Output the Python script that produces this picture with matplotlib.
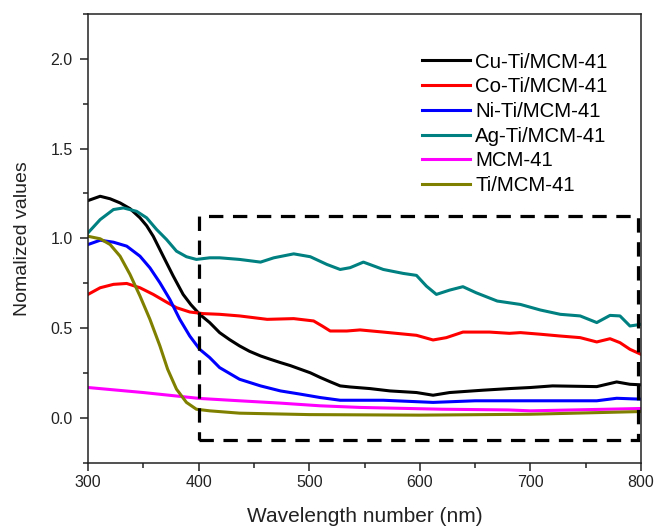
import matplotlib
matplotlib.use("Agg")
import matplotlib.pyplot as plt
from matplotlib.patches import Rectangle
from matplotlib.ticker import MultipleLocator, FormatStrFormatter

plt.rcParams['font.family'] = ['Liberation Sans', 'DejaVu Sans']

# ---- data ----
cu_x = [300, 311, 320, 329, 338, 347, 353, 359, 368, 377, 386, 393, 401, 410, 419, 428, 437, 446, 456, 465,
        474, 483, 492, 501, 510, 519, 528, 537, 555, 573, 597, 612, 627, 657, 681, 700, 720, 760, 778, 790, 800]
cu_y = [1.21, 1.234, 1.22, 1.197, 1.165, 1.114, 1.07, 1.011, 0.90, 0.79, 0.687, 0.63, 0.576, 0.53, 0.474, 0.435,
        0.40, 0.37, 0.344, 0.325, 0.307, 0.29, 0.27, 0.25, 0.224, 0.20, 0.177, 0.171, 0.162, 0.149, 0.14, 0.125,
        0.14, 0.153, 0.162, 0.168, 0.177, 0.173, 0.199, 0.186, 0.183]

co_x = [300, 311, 323, 335, 347, 359, 371, 380, 392, 404, 419, 437, 462, 486, 504, 512, 519, 534, 546, 567,
        597, 612, 624, 639, 663, 681, 691, 709, 727, 745, 760, 772, 781, 790, 800]
co_y = [0.687, 0.724, 0.743, 0.748, 0.724, 0.687, 0.644, 0.613, 0.589, 0.580, 0.576, 0.567, 0.548, 0.552, 0.539,
        0.51, 0.483, 0.483, 0.489, 0.477, 0.459, 0.433, 0.446, 0.477, 0.477, 0.47, 0.474, 0.465, 0.455, 0.446,
        0.422, 0.44, 0.418, 0.381, 0.353]

ni_x = [300, 311, 323, 335, 347, 356, 365, 374, 383, 392, 401, 410, 419, 437, 456, 474, 492, 510, 528, 546,
        567, 612, 650, 700, 760, 778, 800]
ni_y = [0.965, 0.989, 0.978, 0.956, 0.90, 0.835, 0.752, 0.659, 0.548, 0.455, 0.381, 0.335, 0.279, 0.214, 0.177,
        0.149, 0.131, 0.112, 0.097, 0.097, 0.097, 0.085, 0.094, 0.094, 0.094, 0.108, 0.103]

ag_x = [300, 311, 323, 332, 344, 353, 362, 371, 380, 389, 398, 410, 419, 437, 456, 468, 486, 501, 516, 528,
        537, 549, 567, 585, 597, 606, 615, 627, 639, 651, 670, 691, 709, 727, 745, 760, 772, 781, 790, 800]
ag_y = [1.03, 1.104, 1.16, 1.169, 1.15, 1.114, 1.049, 0.993, 0.928, 0.897, 0.882, 0.891, 0.891, 0.882, 0.867,
        0.891, 0.913, 0.897, 0.854, 0.826, 0.836, 0.867, 0.826, 0.804, 0.793, 0.733, 0.687, 0.711, 0.73, 0.696,
        0.65, 0.631, 0.60, 0.576, 0.567, 0.53, 0.57, 0.567, 0.511, 0.52]

mcm_x = [300, 350, 401, 437, 474, 510, 546, 620, 680, 700, 800]
mcm_y = [0.168, 0.14, 0.107, 0.094, 0.081, 0.066, 0.057, 0.047, 0.043, 0.038, 0.051]

ti_x = [300, 311, 320, 329, 338, 347, 356, 365, 372, 380, 389, 398, 410, 437, 500, 600, 700, 800]
ti_y = [1.011, 0.997, 0.965, 0.90, 0.798, 0.678, 0.548, 0.40, 0.27, 0.159, 0.085, 0.047, 0.038, 0.025, 0.017,
        0.014, 0.019, 0.034]

labels = ["Cu-Ti/MCM-41", "Co-Ti/MCM-41", "Ni-Ti/MCM-41", "Ag-Ti/MCM-41", "MCM-41", "Ti/MCM-41"]
colors = ["#000000", "#ff0000", "#0000ff", "#008080", "#ff00ff", "#808000"]

box_x = [400, 797]
box_y = [-0.125, 1.125]

# ---- figure ----
fig = plt.figure(figsize=(6.56, 5.28), dpi=100)
ax = fig.add_axes([88 / 656, 1 - 462.5 / 528, 553 / 656, 448.5 / 528])

series = [(cu_x, cu_y), (co_x, co_y), (ni_x, ni_y), (ag_x, ag_y), (mcm_x, mcm_y), (ti_x, ti_y)]
for (xs, ys), lab, col in zip(series, labels, colors):
    ax.plot(xs, ys, color=col, lw=2.2, label=lab)

ax.add_patch(Rectangle((box_x[0], box_y[0]), box_x[1] - box_x[0], box_y[1] - box_y[0],
                       fill=False, edgecolor='black', lw=2.3, linestyle=(0, (4.5, 3.0)), zorder=5))

ax.set_xlim(300, 800)
ax.set_ylim(-0.25, 2.25)
ax.xaxis.set_major_locator(MultipleLocator(100))
ax.xaxis.set_minor_locator(MultipleLocator(50))
ax.yaxis.set_major_locator(MultipleLocator(0.5))
ax.yaxis.set_minor_locator(MultipleLocator(0.25))
ax.tick_params(which='major', direction='out', length=6, width=1.1, labelsize=11.5, colors='#222222')
ax.tick_params(axis='x', which='major', pad=3)
ax.tick_params(axis='y', which='major', pad=5)
ax.tick_params(which='minor', direction='out', length=3.5, width=1.1, colors='#222222')
ax.yaxis.set_major_formatter(FormatStrFormatter('%.1f'))
for sp in ax.spines.values():
    sp.set_linewidth(1.1)
    sp.set_color('#222222')

ax.set_xlabel("Wavelength number (nm)", fontsize=15, color='#222222', labelpad=12)
ax.set_ylabel("Nomalized values", fontsize=14, color='#222222', labelpad=14)

ax.legend(loc='upper left', bbox_to_anchor=(0.604, 0.914), frameon=False, fontsize=14.7,
          handlelength=2.35, handletextpad=0.25, labelspacing=0.28, borderpad=0, borderaxespad=0)

fig.savefig("out.png", dpi=100)
